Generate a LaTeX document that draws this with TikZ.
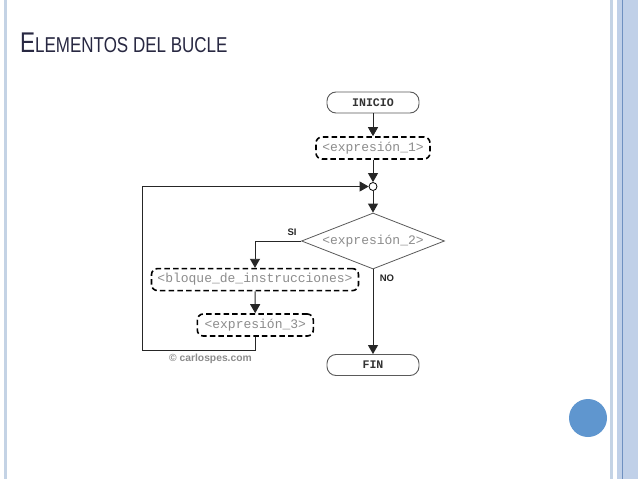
\documentclass[tikz,border=0pt]{standalone}
\usepackage{fontspec}
\setmainfont{Liberation Sans}
\newfontfamily\monofnt{Liberation Mono}
\usetikzlibrary{arrows.meta,shapes.geometric}
\definecolor{titlecol}{RGB}{40,40,66}
\definecolor{stripe}{RGB}{196,211,229}
\definecolor{band}{RGB}{192,208,232}
\definecolor{bandline}{RGB}{110,144,192}
\definecolor{dotblue}{RGB}{95,150,207}
\definecolor{exprgray}{RGB}{140,140,140}
\definecolor{bordergray}{RGB}{90,90,90}
\tikzset{
  terminal/.style={draw=bordergray, line width=0.9pt, rounded corners=9pt, minimum width=92pt, minimum height=21pt, inner sep=0pt, font=\monofnt\bfseries\fontsize{11.6}{12}\selectfont, text=black!80},
  exprbox/.style={draw=black, line width=1.6pt, dash pattern=on 5.5pt off 3.2pt, rounded corners=6pt, minimum height=22pt, inner sep=0pt, font=\monofnt\fontsize{13}{14}\selectfont, text=exprgray},
  decision/.style={draw=bordergray, line width=0.8pt, diamond, aspect=2.55, minimum width=143pt, minimum height=56pt, inner sep=0pt, font=\monofnt\fontsize{13}{14}\selectfont, text=exprgray},
  junction/.style={draw=black, line width=0.8pt, fill=white, circle, minimum size=8pt, inner sep=0pt},
  conn/.style={draw=black!85, line width=0.9pt, -{Triangle[width=10pt,length=9pt]}},
  plainconn/.style={draw=black!85, line width=0.9pt},
  branchlbl/.style={font=\bfseries\fontsize{9.5}{10}\selectfont, text=black!85, inner sep=0pt}
}
\begin{document}
\begin{tikzpicture}[x=1pt,y=-1pt]
\useasboundingbox (0,0) rectangle (638,479);
\fill[white] (0,0) rectangle (638,479);
% slide decoration
\fill[stripe] (4,0) rectangle (6.5,479);
\fill[stripe] (610,0) rectangle (612.5,479);
\fill[band] (617,0) rectangle (638,479);
\fill[bandline] (621.5,0) rectangle (622.7,479);
\fill[dotblue] (588,418) circle (19);
% title
\node[anchor=west, text=titlecol, inner sep=0pt, xscale=0.79] (title) at (20,43)
  {\fontsize{28.5}{30}\selectfont E\fontsize{21.5}{24}\selectfont LEMENTOS DEL BUCLE};
% flowchart
\node[terminal] (inicio) at (373,102.5) {INICIO};
\node[exprbox, minimum width=114pt] (e1) at (373,148) {<expresión\_1>};
\node[junction] (j) at (373,186.5) {};
\node[decision] (d) at (373,241) {<expresión\_2>};
\node[exprbox, minimum width=207pt] (b) at (255,279.6) {<bloque\_de\_instrucciones>};
\node[exprbox, minimum width=116pt] (e3) at (255.3,325) {<expresión\_3>};
\node[terminal] (fin) at (373,365) {FIN};
\coordinate (c2) at (142,350.5);
\draw[conn] (inicio) -- (e1);
\draw[conn] (e1) -- (j);
\draw[conn] (j) -- (d);
\draw[conn] (d.west) -| (b.north);
\draw[conn] (b) -- (e3);
\draw[conn] (d.south) -- (fin.north);
\draw[plainconn] (e3.south) |- (c2);
\draw[conn] (c2) |- (j.west);
\node[branchlbl] (si) at (292,232.5) {SI};
\node[branchlbl] (no) at (387,278.5) {NO};
\node[font=\bfseries\fontsize{10.3}{11}\selectfont, text=black!45, inner sep=0pt] (copy) at (210.5,359) {© carlospes.com};
\end{tikzpicture}
\end{document}
